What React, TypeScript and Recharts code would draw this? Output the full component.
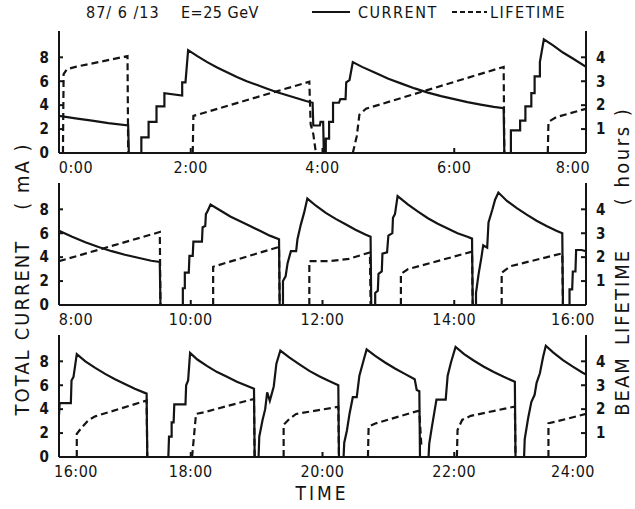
import React from "react";
import { LineChart, Line, XAxis, YAxis } from "recharts";

const FONT = '"Liberation Sans Narrow", "DejaVu Sans Condensed", "Roboto", sans-serif';
const INK = "#141414";

// panel 1 : 0:00 - 8:00
const p1CurT = [0, 0.25, 0.5, 0.75, 1.05, 1.06, 1.25, 1.25, 1.36, 1.36, 1.48, 1.48, 1.6, 1.6, 1.87, 1.87, 1.92, 1.96, 2.1, 2.25, 2.4, 2.55, 2.7, 2.85, 3.0, 3.15, 3.3, 3.45, 3.6, 3.75, 3.85, 3.86, 3.96, 3.97, 4.01, 4.02, 4.05, 4.05, 4.1, 4.1, 4.16, 4.16, 4.25, 4.27, 4.35, 4.36, 4.41, 4.46, 4.6, 4.8, 5.0, 5.2, 5.4, 5.6, 5.8, 6.0, 6.2, 6.4, 6.6, 6.75, 6.76, 6.86, 6.86, 7.0, 7.0, 7.08, 7.08, 7.17, 7.17, 7.22, 7.22, 7.3, 7.3, 7.36, 7.5, 7.65, 7.8, 8.0];
const p1Cur = [3.1, 2.9, 2.7, 2.5, 2.3, 0, 0, 1.3, 1.3, 2.6, 2.6, 3.9, 3.9, 5.0, 4.8, 5.9, 5.9, 8.6, 8.1, 7.6, 7.15, 6.75, 6.35, 6.0, 5.7, 5.4, 5.1, 4.85, 4.6, 4.35, 4.2, 2.3, 2.3, 2.6, 2.6, 0, 0, 1.2, 1.2, 2.6, 2.6, 4.2, 4.2, 4.5, 4.5, 5.9, 6.1, 7.6, 7.2, 6.7, 6.2, 5.8, 5.4, 5.05, 4.75, 4.5, 4.25, 4.05, 3.85, 3.75, 0, 0, 1.9, 1.9, 2.7, 2.7, 3.9, 3.9, 5.0, 5.0, 6.4, 6.4, 7.6, 9.5, 9.0, 8.4, 7.9, 7.2];
const p1LifeT = [0.06, 0.07, 0.12, 0.25, 1.04, 1.05, 1.5, 2.03, 2.04, 3.8, 3.82, 3.86, 3.9, 4.2, 4.46, 4.52, 4.56, 4.66, 6.75, 6.76, 7.1, 7.42, 7.43, 7.55, 8.0];
const p1Life = [0, 3.3, 3.5, 3.6, 4.05, 0, null, 0, 1.55, 2.98, 1.2, 0.8, 0, null, 0, 0.7, 1.6, 1.85, 3.6, 0, null, 0, 1.3, 1.5, 1.85];

// panel 2 : 8:00 - 16:00
const p2CurT = [8.0, 8.2, 8.4, 8.6, 8.8, 9.0, 9.2, 9.4, 9.53, 9.54, 9.88, 9.88, 9.91, 9.91, 9.97, 9.98, 10.03, 10.04, 10.17, 10.18, 10.22, 10.23, 10.26, 10.3, 10.45, 10.6, 10.75, 10.9, 11.05, 11.2, 11.34, 11.35, 11.4, 11.4, 11.44, 11.47, 11.52, 11.6, 11.62, 11.67, 11.72, 11.77, 11.9, 12.05, 12.2, 12.35, 12.5, 12.65, 12.73, 12.74, 12.8, 12.8, 12.84, 12.85, 12.9, 12.91, 12.98, 13.0, 13.06, 13.07, 13.1, 13.14, 13.3, 13.45, 13.6, 13.75, 13.9, 14.05, 14.2, 14.27, 14.28, 14.33, 14.33, 14.37, 14.41, 14.44, 14.5, 14.52, 14.58, 14.62, 14.67, 14.8, 14.95, 15.1, 15.25, 15.4, 15.55, 15.64, 15.65, 15.75, 15.75, 15.79, 15.8, 15.84, 15.85, 15.93, 16.0];
const p2Cur = [6.2, 5.7, 5.25, 4.85, 4.5, 4.2, 3.95, 3.7, 3.6, 0, 0, 1.4, 1.4, 2.7, 2.7, 4.1, 4.1, 5.3, 5.3, 6.5, 6.6, 7.6, 7.9, 8.4, 7.9, 7.4, 7.0, 6.6, 6.2, 5.8, 5.5, 0, 0, 2.0, 2.4, 3.5, 4.5, 4.5, 5.5, 6.7, 7.7, 8.9, 8.3, 7.7, 7.2, 6.75, 6.3, 5.9, 5.7, 0, 0, 1.0, 1.2, 2.6, 2.8, 4.3, 4.4, 5.8, 6.0, 7.3, 7.6, 9.1, 8.4, 7.8, 7.25, 6.8, 6.4, 6.0, 5.7, 5.55, 0, 0, 1.0, 2.6, 3.9, 5.0, 4.8, 6.9, 8.0, 8.8, 9.4, 8.7, 8.1, 7.55, 7.05, 6.6, 6.2, 6.0, 0, 0, 1.3, 1.3, 2.8, 2.8, 4.6, 4.6, 4.5];
const p2LifeT = [8.0, 9.53, 9.54, 10.0, 10.34, 10.34, 11.34, 11.35, 11.6, 11.8, 11.8, 12.1, 12.4, 12.72, 12.73, 13.0, 13.19, 13.19, 13.3, 14.27, 14.28, 14.5, 14.72, 14.72, 14.85, 15.64, 15.65];
const p2Life = [1.83, 3.05, 0, null, 0, 1.6, 2.43, 0, null, 0, 1.83, 1.83, 1.93, 2.2, 0, null, 0, 1.3, 1.5, 2.23, 0, null, 0, 1.35, 1.62, 2.16, 0];

// panel 3 : 16:00 - 24:00
const p3CurT = [16.0, 16.01, 16.18, 16.19, 16.22, 16.27, 16.4, 16.55, 16.7, 16.85, 17.0, 17.15, 17.33, 17.34, 17.66, 17.67, 17.71, 17.71, 17.74, 17.75, 17.92, 17.93, 17.96, 17.99, 18.1, 18.25, 18.4, 18.55, 18.7, 18.85, 18.96, 18.97, 19.03, 19.04, 19.09, 19.13, 19.16, 19.2, 19.26, 19.3, 19.36, 19.5, 19.65, 19.8, 19.95, 20.1, 20.24, 20.25, 20.32, 20.33, 20.37, 20.41, 20.46, 20.52, 20.56, 20.62, 20.67, 20.8, 20.95, 21.1, 21.25, 21.4, 21.43, 21.47, 21.48, 21.61, 21.62, 21.66, 21.73, 21.87, 21.9, 21.95, 22.02, 22.15, 22.3, 22.45, 22.6, 22.75, 22.92, 22.93, 23.06, 23.07, 23.12, 23.17, 23.22, 23.25, 23.3, 23.35, 23.39, 23.5, 23.65, 23.8, 23.95, 24.0];
const p3Cur = [3.5, 4.5, 4.5, 6.4, 6.7, 8.6, 8.0, 7.45, 6.95, 6.5, 6.1, 5.7, 5.3, 0, 0, 1.7, 1.7, 2.9, 2.9, 4.4, 4.4, 6.0, 6.4, 8.7, 8.15, 7.6, 7.1, 6.7, 6.3, 5.95, 5.7, 0, 0, 1.7, 3.1, 4.0, 5.4, 4.7, 5.9, 7.8, 8.9, 8.3, 7.75, 7.2, 6.75, 6.35, 6.0, 0, 0, 1.2, 2.2, 3.6, 5.0, 5.0, 6.8, 8.0, 9.0, 8.45, 7.9, 7.4, 6.95, 6.5, 5.6, 5.5, 0, 0, 1.1, 2.5, 4.8, 4.8, 6.8, 7.9, 9.2, 8.6, 8.05, 7.55, 7.1, 6.7, 6.3, 0, 0, 1.5, 3.2, 4.6, 5.2, 6.2, 7.0, 8.4, 9.3, 8.75, 8.1, 7.55, 7.05, 6.9];
const p3LifeT = [16.27, 16.27, 16.35, 16.45, 16.55, 17.33, 17.34, 17.7, 18.02, 18.08, 18.2, 18.96, 18.97, 19.2, 19.41, 19.41, 19.5, 19.6, 20.24, 20.25, 20.5, 20.69, 20.7, 20.8, 21.45, 21.47, 21.5, 21.8, 22.04, 22.05, 22.12, 22.25, 22.92, 22.93, 23.2, 23.43, 23.43, 23.6, 24.0];
const p3Life = [0, 0.97, 1.25, 1.55, 1.7, 2.36, 0, null, 0, 1.8, 1.87, 2.43, 0, null, 0, 1.35, 1.6, 1.8, 2.1, 0, null, 0, 1.27, 1.4, 1.93, 1.9, 0.5, null, 0, 1.13, 1.55, 1.72, 2.11, 0, null, 0, 1.41, 1.52, 1.8];

const p1Hours = [0, 2, 4, 6, 8];
const p2Hours = [8, 10, 12, 14, 16];
const p3Hours = [16, 18, 20, 22, 24];
const currentTicks = [0, 2, 4, 6, 8];
const lifetimeTicks = [1, 2, 3, 4];

const zip = (t: number[], v: (number | null)[]) => t.map((x, i) => ({ t: x, v: v[i] }));

function HourTick(props: any, count: number) {
  const { x, y, payload, index } = props;
  let dx = 0;
  if (index === 0) dx = 17;
  if (index === count - 1) dx = -13;
  return (
    <text x={x + dx} y={y} dy="0.71em" textAnchor="middle" fontSize={16} fontFamily={FONT} fill={INK} letterSpacing={0.5}>
      {`${payload.value}:00`}
    </text>
  );
}

const tickStyle = { fontSize: 15, fontFamily: FONT, fill: INK, fontWeight: 600 };

function Panel(props: { top: number; hours: number[]; cur: any[]; life: any[] }) {
  const { top, hours, cur, life } = props;
  const dom = [hours[0], hours[hours.length - 1]];
  return (
    <div style={{ position: "absolute", left: 0, top }}>
      <LineChart width={635} height={164} margin={{ top: 10, right: 0, bottom: 0, left: 0 }}>
        <XAxis
          xAxisId="b"
          type="number"
          dataKey="t"
          domain={dom}
          allowDataOverflow
          ticks={hours}
          interval={0}
          height={32}
          tickSize={-5}
          tickMargin={14}
          stroke={INK}
          strokeWidth={2}
          tick={(p: any) => HourTick(p, hours.length)}
        />
        <XAxis
          xAxisId="t"
          orientation="top"
          type="number"
          dataKey="t"
          domain={dom}
          allowDataOverflow
          ticks={hours}
          interval={0}
          height={0}
          tickSize={-5}
          tick={false}
          stroke={INK}
          strokeWidth={2}
        />
        <YAxis
          yAxisId="c"
          type="number"
          domain={[0, 10.2]}
          allowDataOverflow
          ticks={currentTicks}
          interval={0}
          width={59}
          tickSize={-4}
          tickMargin={14}
          stroke={INK}
          strokeWidth={2}
          tick={tickStyle}
        />
        <YAxis
          yAxisId="l"
          orientation="right"
          type="number"
          domain={[0, 5.1]}
          allowDataOverflow
          ticks={lifetimeTicks}
          interval={0}
          width={49}
          tickSize={-5}
          tickMargin={15}
          stroke={INK}
          strokeWidth={2}
          tick={{ ...tickStyle, textAnchor: "start" }}
        />
        <Line
          xAxisId="b"
          yAxisId="c"
          data={cur}
          dataKey="v"
          type="linear"
          stroke={INK}
          strokeWidth={2.2}
          dot={false}
          isAnimationActive={false}
        />
        <Line
          xAxisId="b"
          yAxisId="l"
          data={life}
          dataKey="v"
          type="linear"
          stroke={INK}
          strokeWidth={2.2}
          strokeDasharray="7 4"
          dot={false}
          connectNulls={false}
          isAnimationActive={false}
        />
      </LineChart>
    </div>
  );
}

export default function App() {
  return (
    <div style={{ position: "absolute", left: 0, top: 0, width: 635, height: 509, background: "#fff", overflow: "hidden" }}>
      <Panel top={21} hours={p1Hours} cur={zip(p1CurT, p1Cur)} life={zip(p1LifeT, p1Life)} />
      <Panel top={173} hours={p2Hours} cur={zip(p2CurT, p2Cur)} life={zip(p2LifeT, p2Life)} />
      <Panel top={325} hours={p3Hours} cur={zip(p3CurT, p3Cur)} life={zip(p3LifeT, p3Life)} />
      <svg width={635} height={509} style={{ position: "absolute", left: 0, top: 0, pointerEvents: "none" }} fontFamily={FONT} fill={INK}>
        <text x={86} y={18} fontSize={16} letterSpacing={1}>87/ 6 /13</text>
        <text x={181} y={18} fontSize={16} letterSpacing={0.5}>E=25 GeV</text>
        <line x1={312} y1={12} x2={350} y2={12} stroke={INK} strokeWidth={2.2} />
        <text x={358} y={18} fontSize={16} letterSpacing={1.5}>CURRENT</text>
        <line x1={452} y1={12} x2={487} y2={12} stroke={INK} strokeWidth={2.2} strokeDasharray="5 3" />
        <text x={490} y={18} fontSize={16} letterSpacing={1.5}>LIFETIME</text>
        <text transform="translate(29,382) rotate(-90)" textAnchor="middle" fontSize={20} letterSpacing={2}>TOTAL</text>
        <text transform="translate(29,290) rotate(-90)" textAnchor="middle" fontSize={20} letterSpacing={2}>CURRENT</text>
        <text transform="translate(29,176) rotate(-90)" textAnchor="middle" fontSize={20} letterSpacing={2}>( mA )</text>
        <text transform="translate(629,386) rotate(-90)" textAnchor="middle" fontSize={20} letterSpacing={2}>BEAM</text>
        <text transform="translate(629,297) rotate(-90)" textAnchor="middle" fontSize={20} letterSpacing={2}>LIFETIME</text>
        <text transform="translate(629,156) rotate(-90)" textAnchor="middle" fontSize={20} letterSpacing={2.5}>( hours )</text>
        <text x={322} y={500} textAnchor="middle" fontSize={19} letterSpacing={3}>TIME</text>
      </svg>
    </div>
  );
}
